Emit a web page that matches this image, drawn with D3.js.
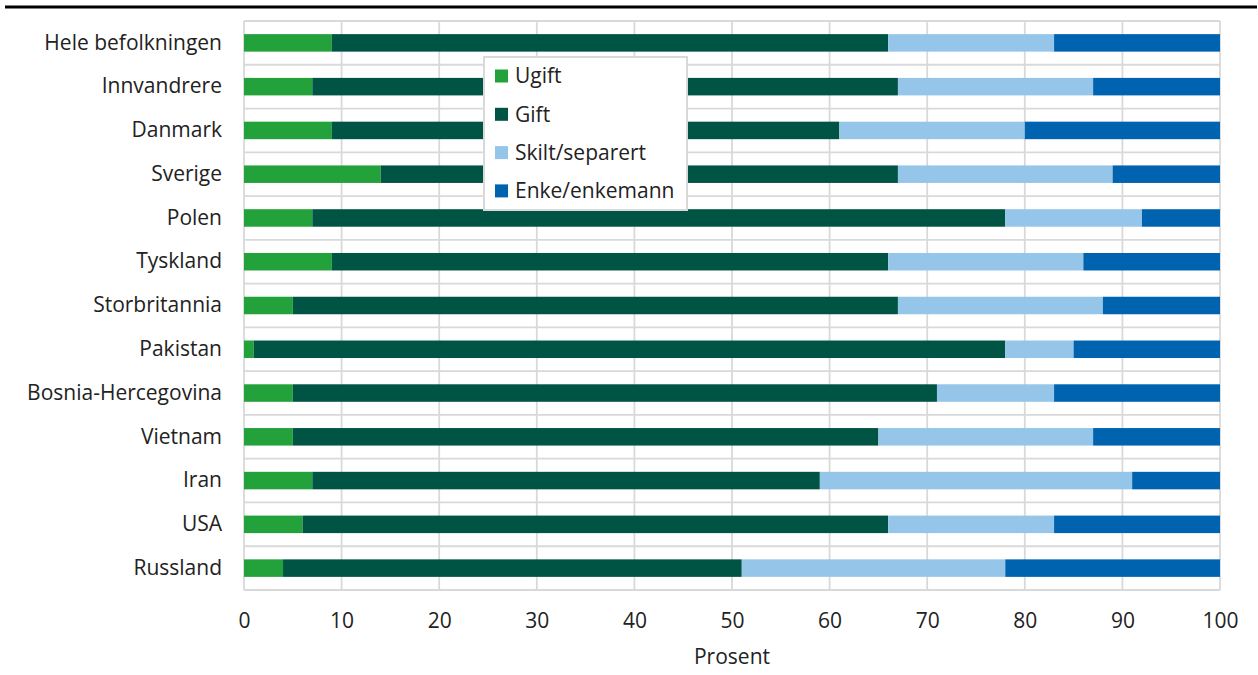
<!DOCTYPE html>
<html>
<head>
<meta charset="utf-8">
<script src="https://cdn.jsdelivr.net/npm/d3@7"></script>
<style>
  html, body { margin: 0; padding: 0; background: #fff; }
  svg { display: block; font-family: "Open Sans", "Noto Sans", sans-serif; }
</style>
</head>
<body>
<svg id="chart" width="1258" height="675"></svg>
<script>
const categories = ["Hele befolkningen", "Innvandrere", "Danmark", "Sverige", "Polen", "Tyskland",
  "Storbritannia", "Pakistan", "Bosnia-Hercegovina", "Vietnam", "Iran", "USA", "Russland"];
const seriesNames = ["Ugift", "Gift", "Skilt/separert", "Enke/enkemann"];
const ugift = [9, 7, 9, 14, 7, 9, 5, 1, 5, 5, 7, 6, 4];
const gift = [57, 60, 52, 53, 71, 57, 62, 77, 66, 60, 52, 60, 47];
const skilt = [17, 20, 19, 22, 14, 20, 21, 7, 12, 22, 32, 17, 27];
const enke = [17, 13, 20, 11, 8, 14, 12, 15, 17, 13, 9, 17, 22];
const xTicks = [0, 10, 20, 30, 40, 50, 60, 70, 80, 90, 100];
const axisTitle = "Prosent";

const colors = ["#23a13a", "#005443", "#95c6ea", "#0063b0"];
const FS = 21;

const svg = d3.select("#chart");
const margin = { left: 244, right: 38, top: 21, bottom: 85 };
const W = 1258, H = 675;
const x = d3.scaleLinear().domain([0, 100]).range([margin.left, W - margin.right]);
const y = d3.scaleBand().domain(categories).range([margin.top, H - margin.bottom]).paddingInner(0.6).paddingOuter(0.3);
const yGrid = d3.scaleBand().domain(categories).range([margin.top, H - margin.bottom]);

// top rule
svg.append("line").attr("x1", 5).attr("x2", 1257).attr("y1", 7).attr("y2", 7)
  .attr("stroke", "#000").attr("stroke-width", 3);

const gridColor = "#d9d9d9";
const hLines = categories.map(c => yGrid(c)).concat([H - margin.bottom]);
svg.append("g").selectAll("line").data(hLines).join("line")
  .attr("x1", margin.left).attr("x2", W - margin.right)
  .attr("y1", d => d).attr("y2", d => d)
  .attr("stroke", gridColor).attr("stroke-width", 1.8);
svg.append("g").selectAll("line").data(xTicks).join("line")
  .attr("x1", d => x(d)).attr("x2", d => x(d))
  .attr("y1", margin.top).attr("y2", H - margin.bottom)
  .attr("stroke", gridColor).attr("stroke-width", 1.8);

const rows = categories.map((c, i) => ({ cat: c, Ugift: ugift[i], Gift: gift[i], "Skilt/separert": skilt[i], "Enke/enkemann": enke[i] }));
const stack = d3.stack().keys(seriesNames)(rows);

svg.append("g").selectAll("g").data(stack).join("g")
  .attr("fill", (d, i) => colors[i])
  .selectAll("rect").data(d => d).join("rect")
  .attr("x", d => x(d[0]))
  .attr("width", d => x(d[1]) - x(d[0]))
  .attr("y", d => y(d.data.cat))
  .attr("height", y.bandwidth());

const yAxis = d3.axisLeft(yGrid).tickSize(0).tickPadding(22);
const gy = svg.append("g").attr("transform", `translate(${margin.left},0)`).call(yAxis);
gy.select(".domain").remove();
gy.selectAll("text").attr("font-size", FS).attr("fill", "#222").attr("font-family", "'Open Sans', sans-serif");

const xAxis = d3.axisBottom(x).tickValues(xTicks).tickSize(0).tickPadding(23).tickFormat(d3.format("d"));
const gx = svg.append("g").attr("transform", `translate(0,${H - margin.bottom})`).call(xAxis);
gx.select(".domain").remove();
gx.selectAll("text").attr("font-size", FS).attr("fill", "#222").attr("font-family", "'Open Sans', sans-serif");

svg.append("text").attr("x", x(50)).attr("y", 664).attr("text-anchor", "middle")
  .attr("font-size", FS).attr("fill", "#222").text(axisTitle);

const lg = svg.append("g").attr("transform", "translate(484,57)");
lg.append("rect").attr("width", 203).attr("height", 153).attr("fill", "#fff")
  .attr("stroke", gridColor).attr("stroke-width", 2);
seriesNames.forEach((s, i) => {
  const cy = 19 + i * 38.3;
  lg.append("rect").attr("x", 11).attr("y", cy - 6.5).attr("width", 13).attr("height", 13).attr("fill", colors[i]);
  lg.append("text").attr("x", 31).attr("y", cy).attr("dy", "0.35em")
    .attr("font-size", FS).attr("fill", "#222").text(s);
});
</script>
</body>
</html>
